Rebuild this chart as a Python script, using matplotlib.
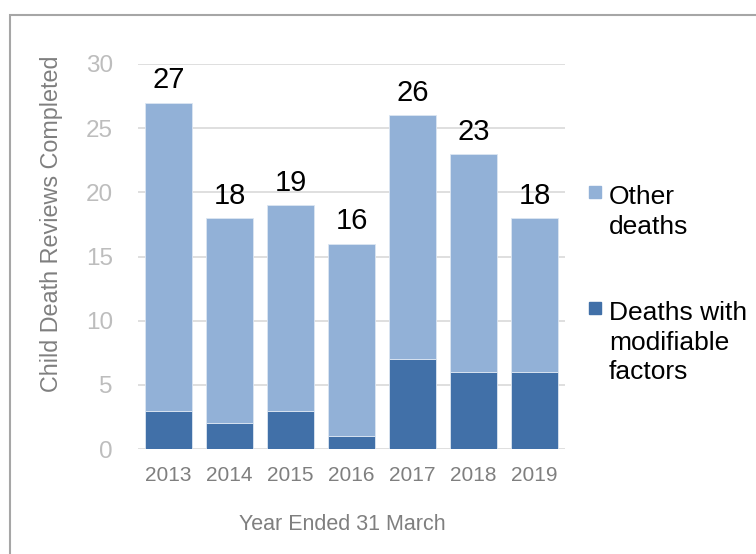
import matplotlib
matplotlib.use("Agg")
import matplotlib.pyplot as plt
from matplotlib.patches import Rectangle

years = ["2013", "2014", "2015", "2016", "2017", "2018", "2019"]
totals = [27, 18, 19, 16, 26, 23, 18]
modifiable = [3, 2, 3, 1, 7, 6, 6]
other = [t - m for t, m in zip(totals, modifiable)]
y_ticks = [0, 5, 10, 15, 20, 25, 30]

plt.rcParams['font.family'] = ['Liberation Sans', 'DejaVu Sans']

LIGHT = "#92B1D7"
DARK = "#4170A8"

W, H = 756, 554
fig = plt.figure(figsize=(W / 100, H / 100), dpi=100)
ax = fig.add_axes([138 / W, 1 - 449 / H, (565 - 138) / W, (449 - 64) / H])

x = list(range(len(years)))
ax.bar(x, modifiable, width=0.77, color=DARK, edgecolor="#DCE6F2", linewidth=0.6, zorder=3)
ax.bar(x, other, bottom=modifiable, width=0.77, color=LIGHT, edgecolor="#DCE6F2", linewidth=0.6, zorder=3)

for xi, t in zip(x, totals):
    ax.annotate(str(t), (xi, t), xytext=(0, 6), textcoords="offset points",
                ha="center", va="bottom", fontsize=21, color="black")

ax.set_xlim(-0.5, len(years) - 0.5)
ax.set_ylim(0, 30)
ax.set_yticks(y_ticks)
ax.set_xticks(x)
ax.set_xticklabels(years)
ax.tick_params(axis="y", length=0, pad=18, labelsize=17.5, labelcolor="#BDBDBD")
ax.tick_params(axis="x", length=0, pad=12, labelsize=15, labelcolor="#7F7F7F")
ax.grid(axis="y", color="#D9D9D9", linewidth=1.2, zorder=0)
for s in ax.spines.values():
    s.set_visible(False)

fig.text(52 / W, 1 - 224 / H, "Child Death Reviews Completed", rotation=90,
         ha="center", va="center", fontsize=16.8, color="#7F7F7F")
fig.text(342 / W, 1 - 525 / H, "Year Ended 31 March", ha="center", va="center",
         fontsize=15.5, color="#7F7F7F")

# legend
leg_items = [("Other\ndeaths", LIGHT, 186), ("Deaths with\nmodifiable\nfactors", DARK, 302)]
for label, col, ytop in leg_items:
    fig.add_artist(Rectangle((589 / W, 1 - (ytop + 12) / H), 12 / W, 12 / H,
                             transform=fig.transFigure, color=col))
    fig.text(609 / W, 1 - (ytop - 1) / H, label, ha="left", va="top",
             fontsize=19, color="black", linespacing=1.3)

# outer border
fig.add_artist(Rectangle((10 / W, -0.05), 1.2, 1 - 15 / H + 0.05, transform=fig.transFigure,
                         fill=False, edgecolor="#A6A6A6", linewidth=1.5))

fig.savefig("out.png", dpi=100)
